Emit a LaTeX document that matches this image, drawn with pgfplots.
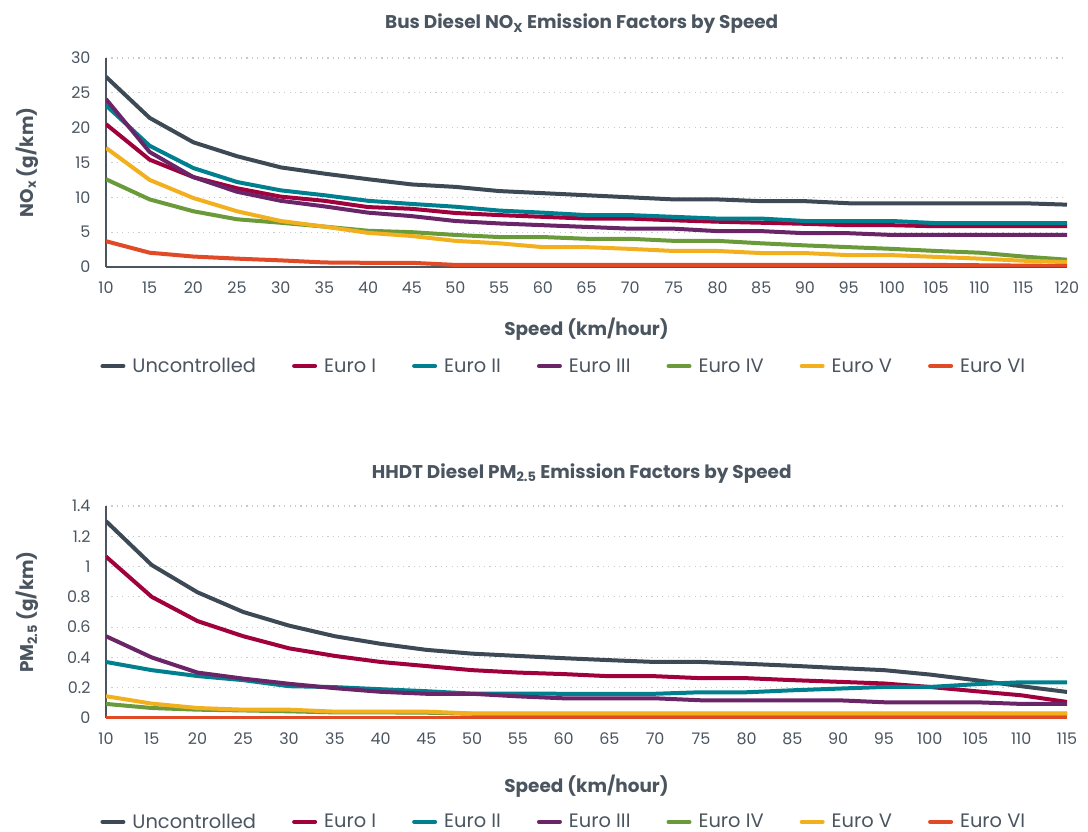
\documentclass[border=0pt]{standalone}
\usepackage{fontspec}
\setmainfont{Poppins}
\usepackage{pgfplots}
\usepackage{pgfplotstable}
\pgfplotsset{compat=1.18}
\definecolor{cUnc}{HTML}{3D4A55}
\definecolor{cE1}{HTML}{A0003C}
\definecolor{cE2}{HTML}{00808F}
\definecolor{cE3}{HTML}{6A2468}
\definecolor{cE4}{HTML}{6A9A3A}
\definecolor{cE5}{HTML}{F2B01E}
\definecolor{cE6}{HTML}{E04A26}
\definecolor{txt}{HTML}{4A5560}
\definecolor{gridc}{HTML}{C8CBCE}

\pgfplotstableread{
x unc e1 e2 e3 e4 e5 e6
10 27.3 20.5 23.2 24.1 12.6 17.1 3.7
15 21.4 15.4 17.4 16.5 9.7 12.5 2.05
20 17.9 12.9 14.2 12.9 8.0 9.9 1.5
25 15.9 11.3 12.2 10.8 6.85 8.0 1.2
30 14.3 10.1 11.0 9.5 6.35 6.6 0.95
35 13.4 9.5 10.3 8.7 5.8 5.8 0.65
40 12.6 8.6 9.5 7.8 5.2 4.9 0.6
45 11.85 8.35 9.05 7.3 5.0 4.45 0.6
50 11.5 7.75 8.65 6.6 4.6 3.75 0.3
55 10.9 7.45 8.1 6.25 4.3 3.4 0.3
60 10.6 7.2 7.8 6.0 4.3 2.85 0.3
65 10.3 6.95 7.45 5.75 4.05 2.85 0.3
70 10.0 6.95 7.45 5.5 4.05 2.6 0.3
75 9.7 6.7 7.2 5.5 3.75 2.3 0.3
80 9.7 6.5 6.95 5.15 3.75 2.3 0.3
85 9.45 6.35 6.95 5.15 3.4 2.0 0.3
90 9.45 6.2 6.6 4.85 3.1 2.0 0.3
95 9.15 6.0 6.6 4.85 2.85 1.7 0.3
100 9.15 6.0 6.6 4.6 2.6 1.7 0.3
105 9.15 5.85 6.3 4.6 2.3 1.45 0.3
110 9.15 5.85 6.3 4.6 2.05 1.2 0.25
115 9.15 5.85 6.3 4.6 1.5 0.9 0.2
120 8.95 5.85 6.3 4.6 1.05 0.7 0.15
}\noxdata

\pgfplotstableread{
x unc e1 e2 e3 e4 e5 e6
10 1.30 1.066 0.37 0.54 0.093 0.144 0.002
15 1.01 0.80 0.316 0.40 0.066 0.095 0.002
20 0.83 0.64 0.277 0.30 0.055 0.066 0.002
25 0.70 0.54 0.25 0.26 0.05 0.055 0.002
30 0.61 0.46 0.21 0.226 0.044 0.055 0.002
35 0.54 0.41 0.204 0.197 0.037 0.042 0.002
40 0.49 0.37 0.19 0.173 0.037 0.042 0.002
45 0.45 0.343 0.177 0.16 0.035 0.042 0.002
50 0.425 0.316 0.161 0.16 0.028 0.03 0.002
55 0.41 0.30 0.161 0.143 0.028 0.03 0.002
60 0.395 0.29 0.16 0.13 0.028 0.03 0.002
65 0.382 0.276 0.16 0.13 0.028 0.03 0.002
70 0.37 0.276 0.16 0.13 0.028 0.03 0.002
75 0.37 0.263 0.17 0.117 0.028 0.03 0.002
80 0.358 0.263 0.17 0.117 0.028 0.03 0.002
85 0.345 0.25 0.183 0.117 0.028 0.03 0.002
90 0.33 0.239 0.194 0.117 0.028 0.03 0.002
95 0.316 0.228 0.205 0.104 0.028 0.03 0.002
100 0.287 0.205 0.205 0.104 0.028 0.03 0.002
105 0.25 0.177 0.223 0.104 0.028 0.03 0.002
110 0.21 0.15 0.236 0.093 0.028 0.03 0.002
115 0.172 0.106 0.236 0.093 0.028 0.03 0.002
}\pmdata

\pgfplotsset{
  common/.style={
    scale only axis,
    width=961bp,
    axis x line=bottom,
    axis y line=left,
    axis line style={-, draw=txt, line width=1.5bp},
    major tick length=0pt,
    ymajorgrids,
    grid style={draw=gridc, line width=1.2bp, dash pattern=on 1.2bp off 4.2bp},
    tick label style={font=\fontsize{16}{18}\selectfont, text=txt},
    /pgf/number format/assume math mode=true,
    yticklabel style={xshift=-12bp},
    xticklabel style={yshift=-11bp},
    label style={font=\bfseries\fontsize{18.5}{20}\selectfont, text=txt},
    title style={font=\bfseries\fontsize{18.5}{20}\selectfont, text=txt, anchor=center, yshift=0pt},
    legend columns=7,
    legend image code/.code={\draw[##1, line width=4bp, line cap=round] (2bp,0bp) -- (23bp,0bp);},
    legend style={draw=none, fill=none, anchor=west, inner sep=0pt,
      font=\fontsize{19.5}{21}\selectfont, text=txt,
      /tikz/every odd column/.append style={column sep=5bp},
      /tikz/every even column/.append style={column sep=34bp}},
    every axis plot/.append style={line width=4bp, line join=round, no markers},
  }
}

\begin{document}
\begin{tikzpicture}
\path (0bp,0bp) rectangle (1088bp,829bp);
\begin{axis}[common,
  at={(106bp,562bp)}, anchor=south west,
  height=209bp,
  xmin=10, xmax=120, ymin=0, ymax=30,
  xtick={10,15,...,120}, ytick={0,5,...,30},
  title={Bus Diesel NO\textsubscript{X} Emission Factors by Speed},
  title style={at={(0.495,1.134)}},
  xlabel={Speed (km/hour)},
  xlabel style={at={(0.5,-0.297)}, anchor=center},
  ylabel={NO\textsubscript{x} (g/km)},
  ylabel style={at={(-0.082,0.5)}, anchor=center},
  legend style={at={(-0.006,-0.474)}},
]
\addplot[cUnc] table[x=x,y=unc] {\noxdata};
\addplot[cE1] table[x=x,y=e1] {\noxdata};
\addplot[cE2] table[x=x,y=e2] {\noxdata};
\addplot[cE3] table[x=x,y=e3] {\noxdata};
\addplot[cE4] table[x=x,y=e4] {\noxdata};
\addplot[cE5] table[x=x,y=e5] {\noxdata};
\addplot[cE6] table[x=x,y=e6] {\noxdata};
\legend{Uncontrolled, Euro I, Euro II, Euro III, Euro IV, Euro V, Euro VI}
\end{axis}
\begin{axis}[common,
  at={(106bp,111bp)}, anchor=south west,
  height=212bp,
  xmin=10, xmax=115, ymin=0, ymax=1.4,
  xtick={10,15,...,115}, ytick={0,0.2,...,1.4},
  title={HHDT Diesel PM\textsubscript{2.5} Emission Factors by Speed},
  title style={at={(0.495,1.127)}},
  xlabel={Speed (km/hour)},
  xlabel style={at={(0.5,-0.32)}, anchor=center},
  ylabel={PM\textsubscript{2.5} (g/km)},
  ylabel style={at={(-0.082,0.5)}, anchor=center},
  legend style={at={(-0.006,-0.49)}},
]
\addplot[cUnc] table[x=x,y=unc] {\pmdata};
\addplot[cE1] table[x=x,y=e1] {\pmdata};
\addplot[cE2] table[x=x,y=e2] {\pmdata};
\addplot[cE3] table[x=x,y=e3] {\pmdata};
\addplot[cE4] table[x=x,y=e4] {\pmdata};
\addplot[cE5] table[x=x,y=e5] {\pmdata};
\addplot[cE6] table[x=x,y=e6] {\pmdata};
\legend{Uncontrolled, Euro I, Euro II, Euro III, Euro IV, Euro V, Euro VI}
\end{axis}
\end{tikzpicture}
\end{document}
